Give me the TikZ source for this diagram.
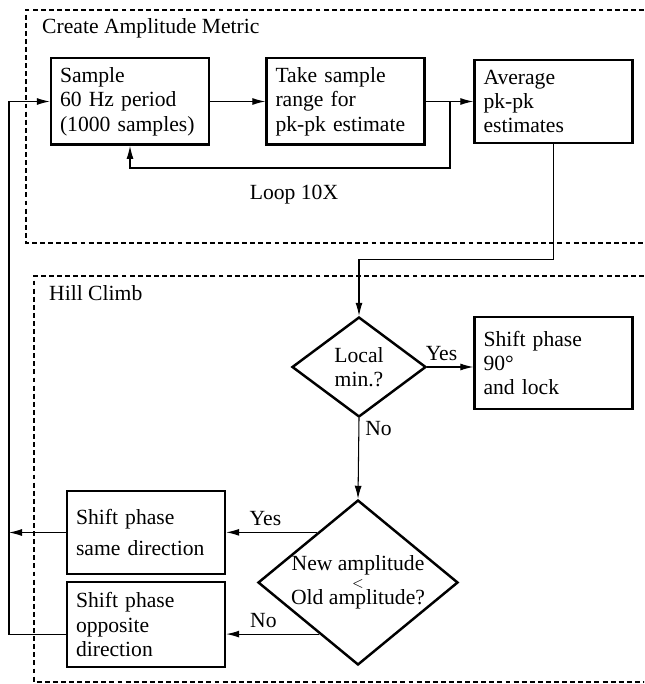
\documentclass[tikz,border=0pt]{standalone}
\usepackage{fontspec}
\setmainfont{Liberation Serif}
\usetikzlibrary{shapes.geometric,arrows.meta}

\tikzset{
  block/.style={draw, line width=1.4pt, align=left, text width=28mm,
    inner sep=1.8mm, minimum height=16.6mm},
  decision/.style={draw, diamond, line width=1.4pt, align=center, inner sep=0pt},
  flow/.style={line width=0.6pt, -{Latex[length=2.6mm,width=1.4mm]}},
  region/.style={line width=0.6pt, dash pattern=on 2.8pt off 1.8pt},
}

\begin{document}
\begin{tikzpicture}[x=0.2mm,y=-0.2mm,font=\fontsize{12.3}{13.9}\selectfont]
                \clip (0,0) rectangle (644,684);
                % dashed groups
                \draw[region] (660,10) -- (26,10) -- (26,243) -- (660,243);
                \draw[region] (660,276) -- (34,276) -- (34,682) -- (660,682);
                \node[anchor=west] (metric) at (36,28) {Create Amplitude Metric};
                \node[anchor=west] (hill) at (43,293) {Hill Climb};
                % amplitude metric
                \node[block] (sample) at (130,101.5) {Sample\\60 Hz period\\(1000 samples)};
                \node[block] (range) at (345.5,101.5) {Take sample\\range for\\pk-pk estimate};
                \node[block] (avg) at (553.5,101.5) {Average\\pk-pk\\estimates};
                \node (loop) at (294,195) {Loop 10X};
                \coordinate (split) at (450,101.5);
                \draw[flow] (sample) -- (range);
                \draw[flow] (range) -- (avg);
                \draw[flow] (split) -- ++(0,66.5) -| (sample.south);
                % hill climb
                \node[decision, minimum width=26.8mm, minimum height=20mm] (local) at (359,367) {Local\\min.?};
                \node[block, minimum height=18.4mm] (lock) at (553.5,363) {Shift phase\\90\textdegree\\and lock};
                \node[decision, inner sep=-4mm, minimum width=40mm, minimum height=33mm] (compare) at (358,582.5)
                    {New amplitude\\[-4.2pt]{\footnotesize$<$}\\[-4.2pt]Old amplitude?};
                \node[block] (same) at (146,532.5) {Shift phase\\[1.3mm]same direction};
                \node[block, minimum height=17mm] (opposite) at (146,624.5) {Shift phase\\opposite\\direction};
                \coordinate (yesend) at (compare.129.6);
                \coordinate (noend) at (compare.233.3);
                \coordinate (rail) at (9,300);
                \draw[flow] (avg.south) -- ++(0,115.5) -| (local.north);
                \draw[flow] (local.east) -- node[above, pos=0.31] {Yes} (local.east -| lock.west);
                \draw[flow] (local.south) -- node[right, pos=0.13] {No} (compare.north);
                \draw[flow] (yesend) -- node[above, pos=0.57] {Yes} (yesend -| same.east);
                \draw[flow] (noend) -- node[above, pos=0.6] {No} (noend -| opposite.east);
                \draw[flow] (same.west) -- (same.west -| rail);
                \draw[flow] (opposite.west |- noend) -- (rail |- noend) |- (sample.west);
            \end{tikzpicture}
\end{document}
